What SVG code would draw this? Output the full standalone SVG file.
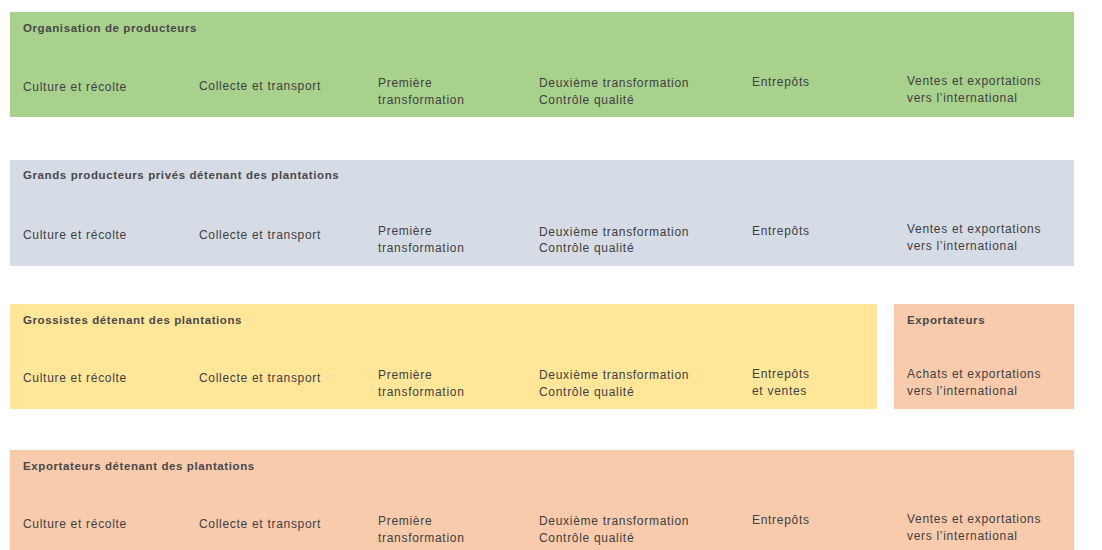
<svg xmlns="http://www.w3.org/2000/svg" width="1102" height="550" viewBox="0 0 1102 550">
<style>
.t{font-family:"Liberation Sans",Arial,sans-serif;font-size:11.5px;font-weight:bold;fill:#484848;letter-spacing:0.6px}
.l{font-family:"Liberation Sans",Arial,sans-serif;font-size:12px;fill:#404040;letter-spacing:0.7px}
</style>
<rect width="1102" height="550" fill="#ffffff"/>
<g id="band-organisation">
<rect x="10" y="12" width="1064" height="105" fill="#a9d18e"/>
<text class="t" x="23" y="32">Organisation de producteurs</text>
<text class="l" x="23" y="91">Culture et récolte</text>
<text class="l" x="199" y="90">Collecte et transport</text>
<text class="l" x="378" y="87">Première</text>
<text class="l" x="378" y="104">transformation</text>
<text class="l" x="539" y="87">Deuxième transformation</text>
<text class="l" x="539" y="104">Contrôle qualité</text>
<text class="l" x="752" y="86">Entrepôts</text>
<text class="l" x="907" y="85">Ventes et exportations</text>
<text class="l" x="907" y="102">vers l’international</text>
</g>
<g id="band-grands">
<rect x="10" y="160" width="1064" height="106" fill="#d6dce5"/>
<text class="t" x="23" y="179">Grands producteurs privés détenant des plantations</text>
<text class="l" x="23" y="239">Culture et récolte</text>
<text class="l" x="199" y="239">Collecte et transport</text>
<text class="l" x="378" y="235">Première</text>
<text class="l" x="378" y="252">transformation</text>
<text class="l" x="539" y="236">Deuxième transformation</text>
<text class="l" x="539" y="252">Contrôle qualité</text>
<text class="l" x="752" y="235">Entrepôts</text>
<text class="l" x="907" y="233">Ventes et exportations</text>
<text class="l" x="907" y="250">vers l’international</text>
</g>
<g id="band-grossistes">
<rect x="10" y="304" width="867" height="105" fill="#ffe699"/>
<text class="t" x="23" y="324">Grossistes détenant des plantations</text>
<text class="l" x="23" y="382">Culture et récolte</text>
<text class="l" x="199" y="382">Collecte et transport</text>
<text class="l" x="378" y="379">Première</text>
<text class="l" x="378" y="396">transformation</text>
<text class="l" x="539" y="379">Deuxième transformation</text>
<text class="l" x="539" y="396">Contrôle qualité</text>
<text class="l" x="752" y="378">Entrepôts</text>
<text class="l" x="752" y="395">et ventes</text>
</g>
<g id="band-exportateurs">
<rect x="894" y="304" width="180" height="105" fill="#f8cbad"/>
<text class="t" x="907" y="324">Exportateurs</text>
<text class="l" x="907" y="378">Achats et exportations</text>
<text class="l" x="907" y="395">vers l’international</text>
</g>
<g id="band-exportateurs-plantations">
<rect x="10" y="450" width="1064" height="100" fill="#f8cbad"/>
<text class="t" x="23" y="470">Exportateurs détenant des plantations</text>
<text class="l" x="23" y="528">Culture et récolte</text>
<text class="l" x="199" y="528">Collecte et transport</text>
<text class="l" x="378" y="525">Première</text>
<text class="l" x="378" y="542">transformation</text>
<text class="l" x="539" y="525">Deuxième transformation</text>
<text class="l" x="539" y="542">Contrôle qualité</text>
<text class="l" x="752" y="524">Entrepôts</text>
<text class="l" x="907" y="523">Ventes et exportations</text>
<text class="l" x="907" y="540">vers l’international</text>
</g>
<g id="connectors"></g>
</svg>
